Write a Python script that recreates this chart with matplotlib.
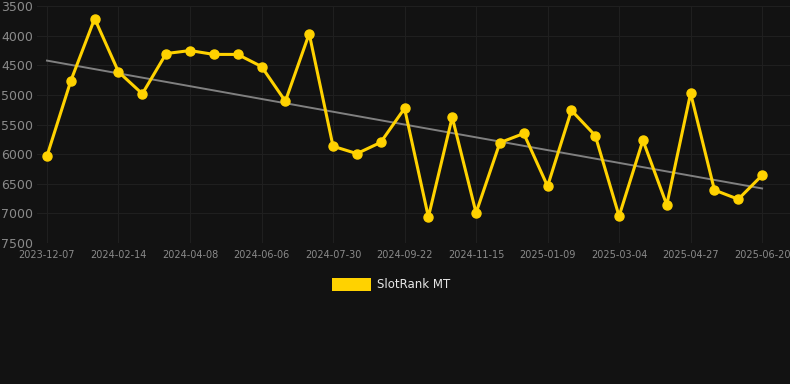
import matplotlib
matplotlib.use("Agg")
import matplotlib.pyplot as plt
import numpy as np

# Rang SlotRank MT (axe inverse : plus petit = meilleur)
rank = [6030, 4760, 3710, 4610, 4980, 4300, 4250, 4315, 4315, 4520,
        5105, 3965, 5865, 5990, 5800, 5225, 7060, 5375, 6990, 5805,
        5650, 6540, 5260, 5685, 7045, 5765, 6855, 4970, 6605, 6760,
        6355]
tick_labels = ["2023-12-07", "2024-02-14", "2024-04-08", "2024-06-06",
               "2024-07-30", "2024-09-22", "2024-11-15", "2025-01-09",
               "2025-03-04", "2025-04-27", "2025-06-20"]
y_ticks = [3500, 4000, 4500, 5000, 5500, 6000, 6500, 7000, 7500]

bg = "#121212"
x = np.arange(len(rank))

fig = plt.figure(figsize=(7.9, 3.84), dpi=100, facecolor=bg)
ax = fig.add_axes([0.0468, 0.367, 0.9532, 0.617], facecolor=bg)

# tendance lineaire
a, b = np.polyfit(x, rank, 1)
ax.plot(x, a * x + b, color="#808080", lw=1.4, zorder=2)

ax.plot(x, rank, color="#FFD200", lw=2.2, marker="o", ms=6.5,
        zorder=3, label="SlotRank MT")

ax.set_xlim(-0.42, 31.17)
ax.set_ylim(7500, 3500)
ax.set_yticks(y_ticks)
ax.set_xticks(x[::3])
ax.set_xticklabels(tick_labels)
ax.grid(True, color="#1f1f1f", lw=0.8)
ax.set_axisbelow(True)
for s in ax.spines.values():
    s.set_visible(False)
ax.tick_params(axis="y", length=0, pad=3, labelsize=9, labelcolor="#8a8a8a")
ax.tick_params(axis="x", length=0, pad=5, labelsize=7, labelcolor="#8a8a8a")

h = [plt.Rectangle((0, 0), 1, 1, facecolor="#FFD200", edgecolor="none")]
fig.legend(h, ["SlotRank MT"], loc="center", bbox_to_anchor=(0.495, 0.258),
           frameon=False, fontsize=8.5, labelcolor="#e6e6e6",
           handlelength=3.3, handleheight=1.2, handletextpad=0.5)

fig.savefig("out.png", dpi=100, facecolor=bg)
